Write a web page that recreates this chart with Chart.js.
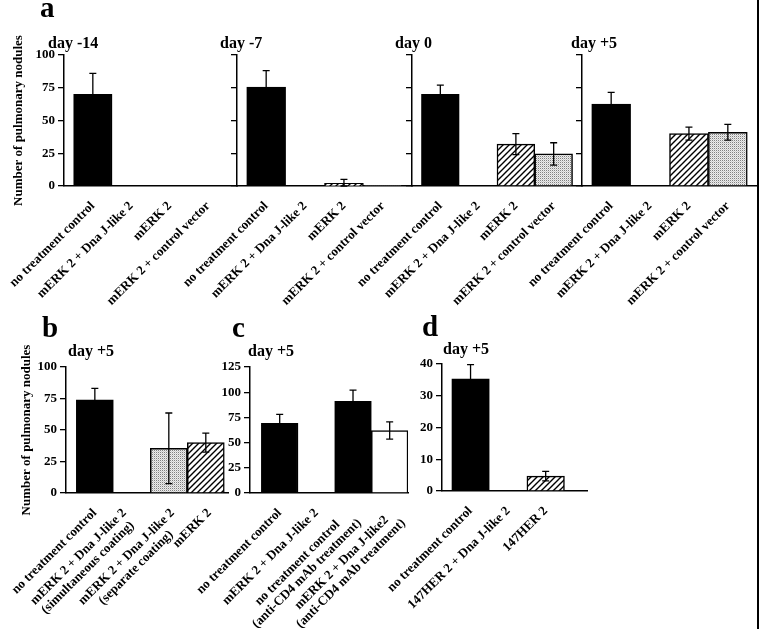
<!DOCTYPE html>
<html>
<head>
<meta charset="utf-8">
<script src="https://cdn.jsdelivr.net/npm/chart.js"></script>
<style>
  body { margin: 0; background: #fff; }
  #page { position: relative; width: 760px; height: 629px; overflow: hidden; background: #fff; }
  #page canvas { position: absolute; left: 0; top: 0; }
  .lbl { position: absolute; font-family: 'Liberation Serif', serif; font-weight: bold; line-height: 1; white-space: nowrap; color: #000; }
  #edge { position: absolute; left: 757px; top: 0; width: 2px; height: 629px; background: #000; }
</style>
</head>
<body>
<div id="page">
  <canvas id="a1" width="760" height="629"></canvas>
  <canvas id="a2" width="760" height="629"></canvas>
  <canvas id="a3" width="760" height="629"></canvas>
  <canvas id="a4" width="760" height="629"></canvas>
  <canvas id="b" width="760" height="629"></canvas>
  <canvas id="c" width="760" height="629"></canvas>
  <canvas id="d" width="760" height="629"></canvas>
  <div id="edge"></div>
</div>
<script>
// panel a: four time points, same four groups
const catsA = ["no treatment control", "mERK 2 + Dna J-like 2", "mERK 2", "mERK 2 + control vector"];
const fillA = ["solid", "solid", "hatch", "dots"];
const ticksA = [0, 25, 50, 75, 100];
const dayM14 = [70, 0, 0, 0];
const dayM14Err = [16, 0, 0, 0];
const dayM7 = [75.5, 0, 2, 0.5];
const dayM7Err = [12.5, 0, 3, 0];
const day0 = [70, 0, 32, 24.5];
const day0Err = [7, 0, 8, 8.5];
const dayP5 = [62.5, 0, 40, 41];
const dayP5Err = [9, 0, 5, 6];

// panel b
const catsB = ["no treatment control", ["mERK 2 + Dna J-like 2", "(simultaneous coating)"],
               ["mERK 2 + Dna J-like 2", "(separate coating)"], "mERK 2"];
const fillB = ["solid", "solid", "dots", "hatch"];
const ticksB = [0, 25, 50, 75, 100];
const valsB = [74, 0, 35.5, 40];
const errB = [9, 0, 28, 7.5];

// panel c
const catsC = ["no treatment control", "mERK 2 + Dna J-like 2",
               ["no treatment control", "(anti-CD4 mAb treatment)"],
               ["mERK 2 + Dna J-like2", "(anti-CD4 mAb treatment)"]];
const fillC = ["solid", "solid", "solid", "white"];
const ticksC = [0, 25, 50, 75, 100, 125];
const valsC = [69, 0, 91, 62];
const errC = [9, 0, 11, 8.5];

// panel d
const catsD = ["no treatment control", "147HER 2 + Dna J-like 2", "147HER 2"];
const fillD = ["solid", "solid", "hatch"];
const ticksD = [0, 10, 20, 30, 40];
const valsD = [35.3, 0, 4.7];
const errD = [4.5, 0, 1.5];

const W = 760, H = 629;
const FONT = "'Liberation Serif', serif";

Chart.defaults.font.family = FONT;
Chart.defaults.font.weight = 'bold';
Chart.defaults.font.size = 13;
Chart.defaults.color = '#000';

function hatchPattern() {
    const c = document.createElement('canvas');
    c.width = 6; c.height = 6;
    const g = c.getContext('2d');
    g.fillStyle = '#fff';
    g.fillRect(0, 0, 6, 6);
    g.strokeStyle = '#000';
    g.lineWidth = 1.4;
    g.beginPath();
    g.moveTo(-1, 7); g.lineTo(7, -1);
    g.moveTo(-1, 1); g.lineTo(1, -1);
    g.moveTo(5, 7); g.lineTo(7, 5);
    g.stroke();
    return g.createPattern(c, 'repeat');
}

function dotPattern() {
    const c = document.createElement('canvas');
    c.width = 2; c.height = 2;
    const g = c.getContext('2d');
    g.fillStyle = '#ececec'; g.fillRect(0, 0, 2, 2);
    g.fillStyle = '#808080'; g.fillRect(0, 0, 1, 1);
    g.fillStyle = '#cccccc'; g.fillRect(1, 1, 1, 1);
    return g.createPattern(c, 'repeat');
}

const fills = { solid: '#000', white: '#fff', hatch: hatchPattern(), dots: dotPattern() };

// two-line labels are centred on each other in the figure; chart.js right-aligns
// rotated labels, so pad the shorter line with spaces
const meas = document.createElement('canvas').getContext('2d');
meas.font = "bold 13px " + FONT;
function centred(label) {
    if (!Array.isArray(label)) return label;
    const w = label.map(s => meas.measureText(s).width);
    const max = Math.max(...w);
    const sp = meas.measureText(' ').width;
    return label.map((s, i) => s + ' '.repeat(Math.round((max - w[i]) / 2 / sp)));
}

// error bars with caps
const errorBars = {
    id: 'errorBars',
    afterDatasetsDraw(chart, args, opts) {
        const errs = opts.err;
        if (!errs) return;
        const pts = chart.data.datasets[0].data;
        const meta = chart.getDatasetMeta(0);
        const y = chart.scales.y;
        const ctx = chart.ctx;
        ctx.save();
        ctx.strokeStyle = '#000';
        ctx.lineWidth = 1.3;
        meta.data.forEach((bar, i) => {
            const e = errs[i];
            if (!e) return;
            const v = pts[i].y;
            const hi = y.getPixelForValue(v + e);
            const lo = y.getPixelForValue(Math.max(v - e, 0));
            ctx.beginPath();
            ctx.moveTo(bar.x, lo); ctx.lineTo(bar.x, hi);
            ctx.moveTo(bar.x - 3.5, hi); ctx.lineTo(bar.x + 3.5, hi);
            ctx.moveTo(bar.x - 3.5, lo); ctx.lineTo(bar.x + 3.5, lo);
            ctx.stroke();
        });
        ctx.restore();
    }
};

function panel(id, o) {
    // x scale runs to the bottom of the canvas so rotated labels are not clipped
    const xh = H - o.bottom;
    const labels = o.cats.map(centred);
    // where each label is anchored on the x scale; two-line labels sit a little apart
    const labelAt = o.labelAt || o.cats.map((c, i) => i);
    // one group per unit of the x scale, bars touching
    const unit = (o.right - o.left) / (o.xMax - o.xMin);
    return new Chart(document.getElementById(id), {
        type: 'bar',
        data: {
            datasets: [{
                data: o.vals.map((v, i) => ({ x: i, y: v })),
                backgroundColor: o.fills.map(f => fills[f]),
                borderColor: '#000',
                borderWidth: 1.5,
                barThickness: unit
            }]
        },
        options: {
            responsive: false,
            animation: false,
            devicePixelRatio: 1,
            layout: { padding: { left: o.left - o.yw, right: W - o.right, top: o.top, bottom: 0 } },
            plugins: {
                legend: { display: false },
                tooltip: { enabled: false },
                errorBars: { err: o.errs }
            },
            scales: {
                x: {
                    type: 'linear',
                    offset: false,
                    min: o.xMin,
                    max: o.xMax,
                    grid: { display: false, drawTicks: false },
                    border: { display: true, color: '#000', width: 1.5 },
                    ticks: {
                        autoSkip: false, minRotation: 45, maxRotation: 45,
                        padding: 13,
                        font: { size: 13, weight: 'bold', lineHeight: 1.1 },
                        callback: (v, i) => labels[i]
                    },
                    afterBuildTicks: s => { s.ticks = labelAt.map(v => ({ value: v })); },
                    afterFit: s => { s.height = xh; s.paddingLeft = 0; s.paddingRight = 0; }
                },
                y: {
                    min: 0,
                    max: o.yTicks[o.yTicks.length - 1],
                    afterBuildTicks: s => { s.ticks = o.yTicks.map(v => ({ value: v })); },
                    grid: { drawOnChartArea: false, drawTicks: true, tickLength: 6, color: '#000', lineWidth: 1.3 },
                    border: { display: true, color: '#000', width: 1.5 },
                    ticks: { display: o.showY, padding: 3 },
                    title: {
                        display: !!o.yTitle, text: o.yTitle || '',
                        font: { size: 13, weight: 'bold' },
                        padding: { top: o.titlePad || 0, bottom: 0 }
                    },
                    afterFit: s => { s.width = o.yw; s.paddingTop = 0; s.paddingBottom = 0; }
                }
            }
        },
        plugins: [errorBars]
    });
}

const yTitle = 'Number of pulmonary nodules';
const aBox = { top: 55, bottom: 186, yTicks: ticksA, cats: catsA, fills: fillA, xMin: -0.75, xMax: 3.75 };

panel('a1', Object.assign({}, aBox, { left: 64, right: 237, yw: 64, showY: true, yTitle: yTitle, titlePad: 11, vals: dayM14, errs: dayM14Err }));
panel('a2', Object.assign({}, aBox, { left: 237, right: 412, yw: 10, showY: false, vals: dayM7, errs: dayM7Err }));
panel('a3', Object.assign({}, aBox, { left: 412, right: 582, yw: 10, showY: false, vals: day0, errs: day0Err }));
panel('a4', Object.assign({}, aBox, { left: 582, right: 757, yw: 10, showY: false, vals: dayP5, errs: dayP5Err }));

panel('b', { left: 66, right: 228, top: 367, bottom: 493, yw: 66, showY: true, yTitle: yTitle, titlePad: 18.7,
             yTicks: ticksB, cats: catsB, fills: fillB, vals: valsB, errs: errB, xMin: -0.78, xMax: 3.6,
             labelAt: [0, 0.8, 2.1, 3.1] });
panel('c', { left: 250, right: 408, top: 367, bottom: 493, yw: 30, showY: true,
             yTicks: ticksC, cats: catsC, fills: fillC, vals: valsC, errs: errC, xMin: -0.81, xMax: 3.5,
             labelAt: [0, 1, 1.9, 3.1] });
panel('d', { left: 442, right: 587, top: 364, bottom: 491, yw: 30, showY: true,
             yTicks: ticksD, cats: catsD, fills: fillD, vals: valsD, errs: errD, xMin: -0.76, xMax: 3.1 });

// panel letters and day captions
function putText(txt, x, base, size) {
    const el = document.createElement('div');
    el.className = 'lbl';
    el.textContent = txt;
    el.style.fontSize = size + 'px';
    el.style.left = x + 'px';
    el.style.top = (base - 0.8375 * size) + 'px';
    document.getElementById('page').appendChild(el);
}
putText('a', 40, 17.5, 29);
putText('b', 42, 337.5, 29);
putText('c', 232, 337, 29);
putText('d', 422, 336.5, 29);
putText('day -14', 48, 48, 16);
putText('day -7', 220, 48, 16);
putText('day 0', 395, 48, 16);
putText('day +5', 571, 48, 16);
putText('day +5', 68, 356.5, 16);
putText('day +5', 248, 356.5, 16);
putText('day +5', 443, 354, 16);
</script>
</body>
</html>
